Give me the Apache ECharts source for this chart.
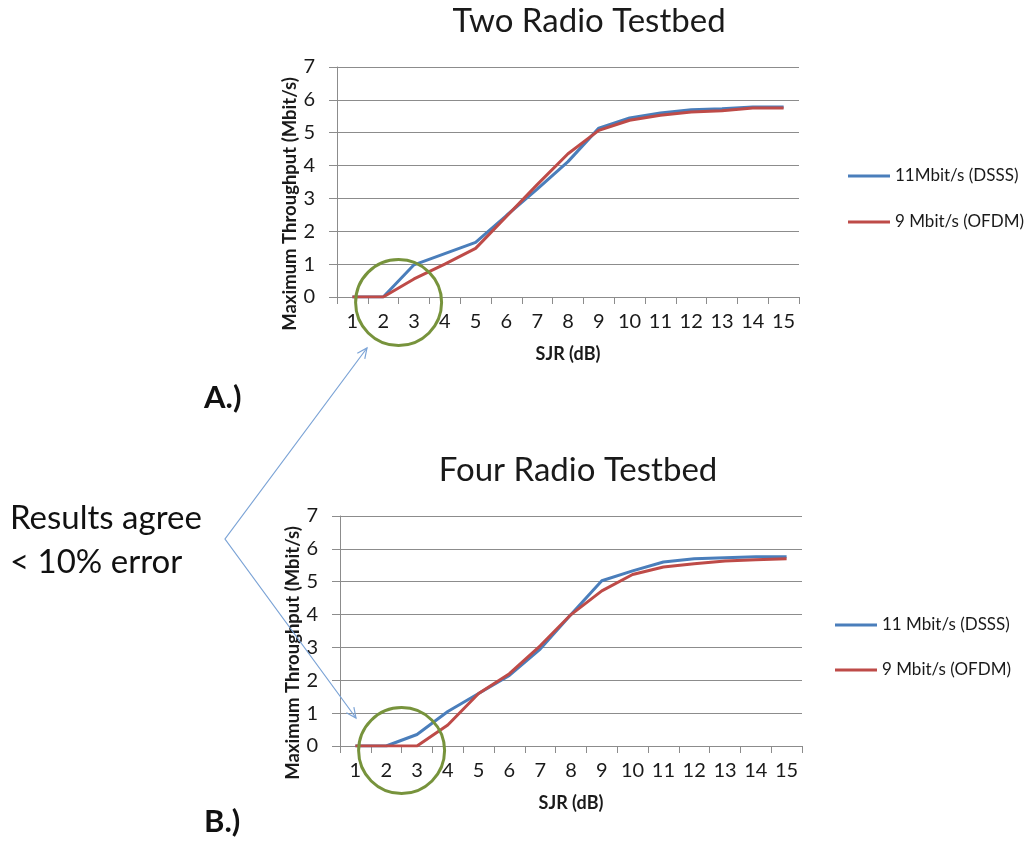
<!DOCTYPE html>
<html>
<head>
<meta charset="utf-8">
<script src="https://cdn.jsdelivr.net/npm/echarts@6/dist/echarts.min.js"></script>
<style>
html,body{margin:0;padding:0;background:#fff;}
#main{width:1033px;height:841px;}
</style>
</head>
<body>
<div id="main"></div>
<script>
// ---- Data ----
const categories = ['1','2','3','4','5','6','7','8','9','10','11','12','13','14','15'];
const yTicks = [0,1,2,3,4,5,6,7];

// A.) Two Radio Testbed
const twoRadioDSSS = [0, 0, 0.98, 1.32, 1.66, 2.48, 3.28, 4.12, 5.14, 5.45, 5.6, 5.7, 5.73, 5.78, 5.78];
const twoRadioOFDM = [0, 0, 0.55, 1.0, 1.48, 2.45, 3.42, 4.36, 5.07, 5.38, 5.53, 5.63, 5.67, 5.75, 5.75];

// B.) Four Radio Testbed
const fourRadioDSSS = [0, 0, 0.35, 1.05, 1.6, 2.15, 2.95, 4.0, 5.03, 5.33, 5.6, 5.7, 5.73, 5.76, 5.76];
const fourRadioOFDM = [0, 0, 0, 0.64, 1.6, 2.2, 3.05, 4.0, 4.72, 5.22, 5.45, 5.55, 5.63, 5.67, 5.7];

const seriesNamesTop = ['11Mbit/s (DSSS)', '9 Mbit/s (OFDM)'];
const seriesNamesBottom = ['11 Mbit/s (DSSS)', '9 Mbit/s (OFDM) '];
const titles = ['Two Radio Testbed', 'Four Radio Testbed'];
const yAxisTitle = 'Maximum Throughput (Mbit/s)';
const xAxisTitle = 'SJR (dB)';

// ---- Styles ----
const FONT = 'Lato, "Open Sans", sans-serif';
const BLUE = '#4A7EBB';
const RED = '#BE4B48';
const GRID = '#8c8c8c';
const TXT = '#1a1a1a';

function xAxisCfg(gi){
  return {
    gridIndex: gi, type: 'category', data: categories, boundaryGap: true,
    axisLine: {show: true, lineStyle: {color: GRID, width: 1}},
    axisTick: {show: true, alignWithLabel: false, length: 7, lineStyle: {color: GRID}},
    axisLabel: {fontFamily: FONT, fontSize: 20, color: TXT, margin: 15, interval: 0},
    splitLine: {show: false},
    name: xAxisTitle, nameLocation: 'middle', nameGap: 48,
    nameTextStyle: {fontFamily: FONT, fontSize: 18, fontWeight: 'bold', color: TXT}
  };
}
function yAxisCfg(gi){
  return {
    gridIndex: gi, type: 'value', min: 0, max: 7, interval: 1,
    axisLine: {show: true, lineStyle: {color: GRID, width: 1}},
    axisTick: {show: true, length: 8, lineStyle: {color: GRID}},
    axisLabel: {fontFamily: FONT, fontSize: 20, color: TXT, margin: 22,
      formatter: v => String(yTicks[yTicks.indexOf(v)])},
    splitLine: {show: true, lineStyle: {color: GRID, width: 1}},
    name: yAxisTitle, nameLocation: 'middle', nameGap: 35, nameRotate: 90,
    nameTextStyle: {fontFamily: FONT, fontSize: 18.5, fontWeight: 'bold', color: TXT, padding: [0, 44, 0, 0]}
  };
}
function lineSeries(name, data, color, idx){
  return {
    name: name, type: 'line', data: data, xAxisIndex: idx, yAxisIndex: idx,
    symbol: 'none', smooth: false, z: color === RED ? 3 : 2,
    lineStyle: {color: color, width: 3}, itemStyle: {color: color}
  };
}

const chart = echarts.init(document.getElementById('main'), null, {renderer: 'canvas'});
const option = {
  backgroundColor: '#ffffff',
  animation: false,
  title: [
    {text: titles[0], left: 584, top: 0, textAlign: 'center',
     textStyle: {fontFamily: FONT, fontSize: 33, fontWeight: 'normal', color: TXT}},
    {text: titles[1], left: 573, top: 449, textAlign: 'center',
     textStyle: {fontFamily: FONT, fontSize: 33, fontWeight: 'normal', color: TXT}}
  ],
  legend: [
    {data: seriesNamesTop, orient: 'vertical', left: 848, top: 167, itemGap: 28, padding: 0,
     icon: 'rect', itemWidth: 42, itemHeight: 3,
     textStyle: {fontFamily: FONT, fontSize: 17, color: TXT, lineHeight: 18}},
    {data: seriesNamesBottom, orient: 'vertical', left: 835, top: 616, itemGap: 27, padding: 0,
     icon: 'rect', itemWidth: 42, itemHeight: 3,
     textStyle: {fontFamily: FONT, fontSize: 17, color: TXT, lineHeight: 18}}
  ],
  grid: [
    {left: 337, top: 67, width: 462, height: 230},
    {left: 340, top: 516, width: 462, height: 230}
  ],
  xAxis: [xAxisCfg(0), xAxisCfg(1)],
  yAxis: [yAxisCfg(0), yAxisCfg(1)],
  series: [
    lineSeries(seriesNamesTop[0], twoRadioDSSS, BLUE, 0),
    lineSeries(seriesNamesTop[1], twoRadioOFDM, RED, 0),
    lineSeries(seriesNamesBottom[0], fourRadioDSSS, BLUE, 1),
    lineSeries(seriesNamesBottom[1], fourRadioOFDM, RED, 1)
  ]
};
chart.setOption(option);

// ---- Annotations ----
const ARROW = '#7BA3D6';
function arrow(x1, y1, x2, y2){
  const dx = x2 - x1, dy = y2 - y1, L = Math.hypot(dx, dy);
  const ux = dx / L, uy = dy / L, len = 11, a = 25 * Math.PI / 180;
  const w = s => {
    const c = Math.cos(s * a), sn = Math.sin(s * a);
    const rx = ux * c - uy * sn, ry = ux * sn + uy * c;
    return [x2 - len * rx, y2 - len * ry];
  };
  return {type: 'polyline', shape: {points: [w(1), [x2, y2], w(-1)]},
          style: {stroke: ARROW, lineWidth: 1.2, fill: null}, z: 20};
}
// circle centers: midway between categories '2' and '3', just below 0
function midCenter(gi, yv){
  const a = chart.convertToPixel({gridIndex: gi}, [categories[1], yv]);
  const b = chart.convertToPixel({gridIndex: gi}, [categories[2], yv]);
  return [(a[0] + b[0]) / 2, a[1]];
}
const c1 = midCenter(0, -0.17);
const c2 = midCenter(1, -0.14);
const apex = [225, 539];
const tipTop = [367, 348];
const tipBot = [356, 718];

chart.setOption({
  graphic: [
    {type: 'circle', shape: {cx: c1[0], cy: c1[1], r: 43}, style: {stroke: '#77933C', lineWidth: 3, fill: null}, z: 20},
    {type: 'circle', shape: {cx: c2[0], cy: c2[1], r: 43}, style: {stroke: '#77933C', lineWidth: 3, fill: null}, z: 20},
    {type: 'polyline', shape: {points: [tipTop, apex, tipBot]}, style: {stroke: ARROW, lineWidth: 1.2, fill: null}, z: 20},
    arrow(apex[0], apex[1], tipTop[0], tipTop[1]),
    arrow(apex[0], apex[1], tipBot[0], tipBot[1]),
    {type: 'text', left: 204, top: 382, style: {text: 'A.)', font: 'bold 31px ' + FONT, fill: '#111'}},
    {type: 'text', left: 204, top: 806, style: {text: 'B.)', font: 'bold 31px ' + FONT, fill: '#111'}},
    {type: 'text', left: 10, top: 496, style: {text: 'Results agree\n< 10% error', font: '33px ' + FONT, fill: '#111', lineHeight: 44}}
  ]
});
</script>
</body>
</html>
